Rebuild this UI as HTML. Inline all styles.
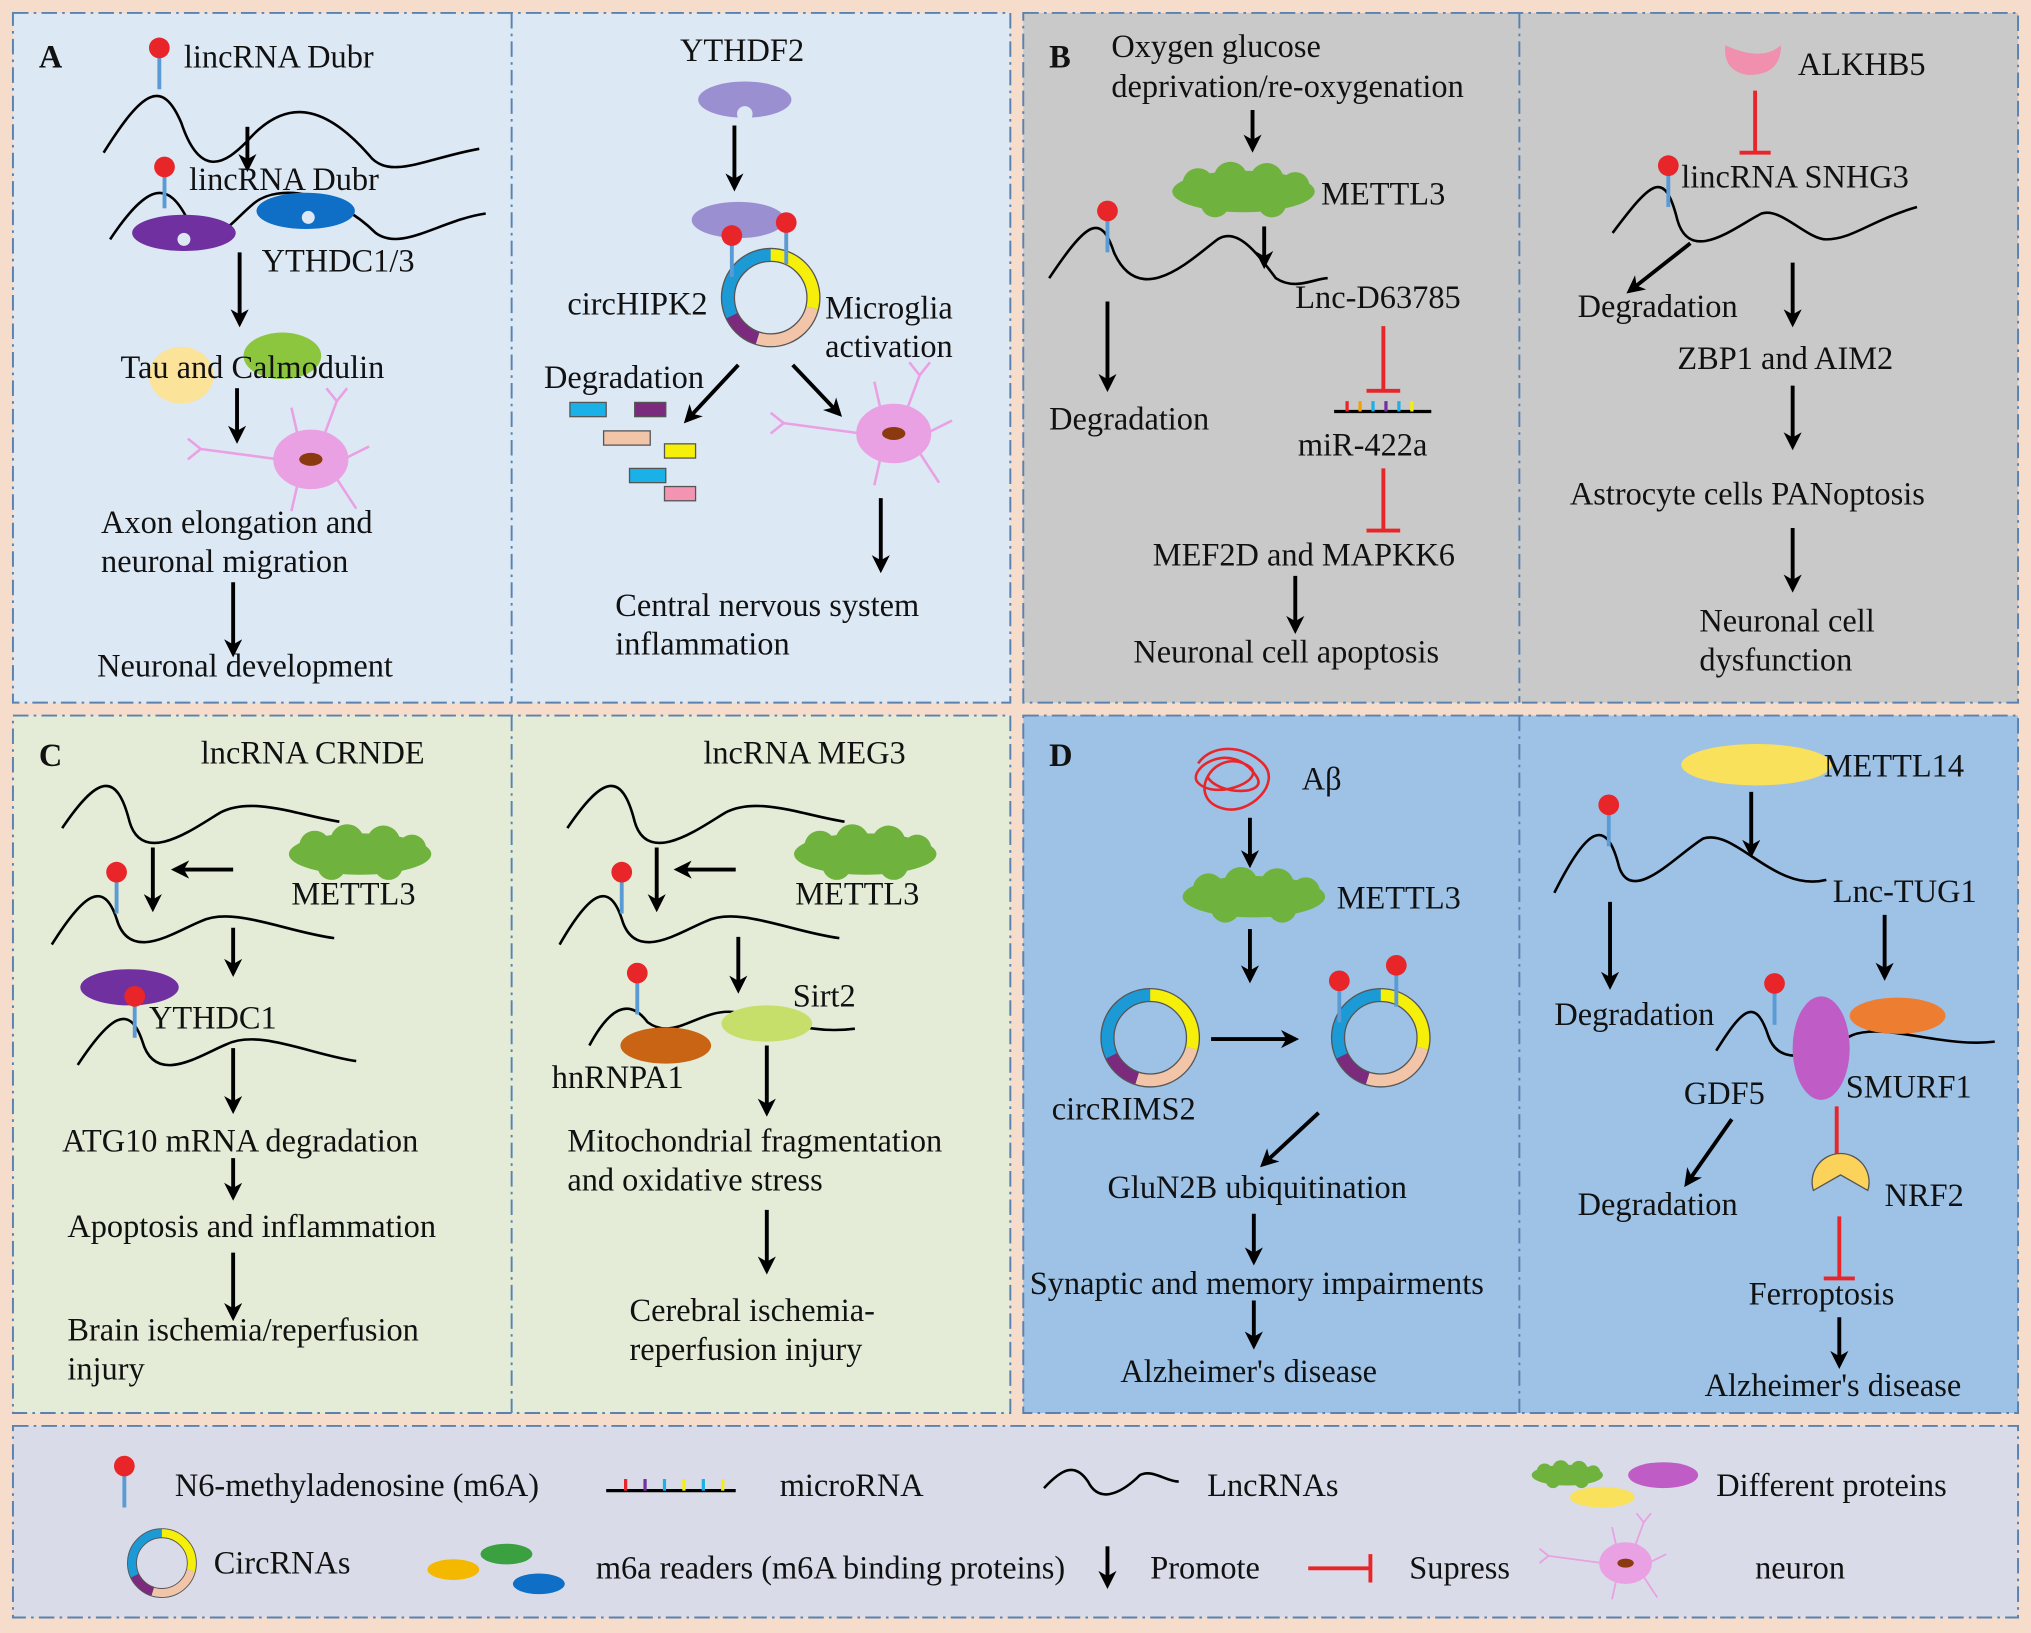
<!DOCTYPE html>
<html><head><meta charset="utf-8"><style>
html,body{margin:0;padding:0;background:#f6dccb;}
svg{display:block}
text{font-family:"Liberation Serif",serif;font-size:25px;fill:#111}
</style></head><body>
<svg width="2031" height="1633" viewBox="0 0 1568 1262" preserveAspectRatio="none" xmlns="http://www.w3.org/2000/svg">
<defs>
<marker id="ah" markerWidth="14" markerHeight="14" refX="11" refY="7" orient="auto" markerUnits="userSpaceOnUse"><path d="M0,0 L14,7 L0,14 L4,7 z" fill="#000"/></marker>
<g id="pin"><line x1="0" y1="0" x2="0" y2="32" stroke="#5b9bd5" stroke-width="3"/><circle cx="0" cy="0" r="8" fill="#e8262a"/></g>
<g id="circ"><circle r="33" fill="none" stroke="#1c9ad6" stroke-width="10"/>
<path d="M0,-33 A33,33 0 0 1 32,8" fill="none" stroke="#f5ef0a" stroke-width="10"/>
<path d="M32,8 A33,33 0 0 1 -10,31" fill="none" stroke="#f3c5a8" stroke-width="10"/>
<path d="M-10,31 A33,33 0 0 1 -30,14" fill="none" stroke="#7b2a7e" stroke-width="10"/>
<circle r="38" fill="none" stroke="#555" stroke-width="1"/><circle r="28" fill="none" stroke="#555" stroke-width="1"/></g>
<g id="cloud"><ellipse cx="0" cy="0" rx="55" ry="16" fill="#6fb23e"/><circle cx="-35" cy="-6" r="12" fill="#6fb23e"/><circle cx="-10" cy="-10" r="13" fill="#6fb23e"/><circle cx="18" cy="-9" r="13" fill="#6fb23e"/><circle cx="40" cy="-4" r="11" fill="#6fb23e"/><circle cx="-22" cy="9" r="11" fill="#6fb23e"/><circle cx="22" cy="9" r="11" fill="#6fb23e"/></g>
<g id="neuron" stroke="#e9a1e3" fill="#e9a1e3" stroke-width="2"><ellipse cx="0" cy="0" rx="28" ry="22"/><ellipse cx="0" cy="0" rx="9" ry="5" fill="#8b3a0f" stroke="none"/><path d="M-25,0 L-85,-8 M-85,-8 L-95,-16 M-85,-8 L-95,0 M10,-18 L20,-45 M20,-45 L28,-55 M20,-45 L12,-55 M-10,-18 L-15,-40 M20,15 L35,38 M-10,18 L-15,40 M25,0 L45,-10" fill="none"/></g>
</defs>
<rect width="1568" height="1262" fill="#f6dccb"/>
<g stroke="#5a82b0" stroke-width="1.5" stroke-dasharray="12,4,2,4">
<rect x="10" y="10" width="770" height="533" fill="#dde8f5"/><line x1="395" y1="10" x2="395" y2="543"/>
<rect x="790" y="10" width="768" height="533" fill="#c9c9c9"/><line x1="1173" y1="10" x2="1173" y2="543"/>
<rect x="10" y="553" width="770" height="539" fill="#e4ecd8"/><line x1="395" y1="553" x2="395" y2="1092"/>
<rect x="790" y="553" width="768" height="539" fill="#9dc2e6"/><line x1="1173" y1="553" x2="1173" y2="1092"/>
<rect x="10" y="1102" width="1548" height="148" fill="#d9dce8"/>
</g>
<g fill="none" stroke="#000" stroke-width="3" marker-end="url(#ah)">
<line x1="191" y1="98" x2="191" y2="130"/><line x1="185" y1="195" x2="185" y2="250"/><line x1="183" y1="300" x2="183" y2="340"/><line x1="180" y1="450" x2="180" y2="505"/>
<line x1="567" y1="97" x2="567" y2="145"/><line x1="570" y1="282" x2="530" y2="325"/><line x1="612" y1="282" x2="648" y2="320"/><line x1="680" y1="385" x2="680" y2="440"/>
<line x1="967" y1="85" x2="967" y2="115"/><line x1="976" y1="175" x2="976" y2="205"/><line x1="855" y1="233" x2="855" y2="300"/><line x1="1000" y1="445" x2="1000" y2="487"/>
<line x1="1305" y1="188" x2="1258" y2="225"/><line x1="1384" y1="203" x2="1384" y2="250"/><line x1="1384" y1="298" x2="1384" y2="345"/><line x1="1384" y1="408" x2="1384" y2="455"/>
<line x1="118" y1="655" x2="118" y2="702"/><line x1="180" y1="672" x2="135" y2="672"/><line x1="180" y1="717" x2="180" y2="752"/><line x1="180" y1="810" x2="180" y2="858"/><line x1="180" y1="895" x2="180" y2="925"/><line x1="180" y1="968" x2="180" y2="1018"/>
<line x1="507" y1="655" x2="507" y2="702"/><line x1="568" y1="672" x2="523" y2="672"/><line x1="570" y1="724" x2="570" y2="765"/><line x1="592" y1="808" x2="592" y2="860"/><line x1="592" y1="935" x2="592" y2="982"/>
<line x1="965" y1="632" x2="965" y2="668"/><line x1="965" y1="718" x2="965" y2="757"/><line x1="935" y1="803" x2="1000" y2="803"/><line x1="1018" y1="860" x2="975" y2="900"/><line x1="968" y1="938" x2="968" y2="975"/><line x1="968" y1="1005" x2="968" y2="1040"/>
<line x1="1352" y1="612" x2="1352" y2="660"/><line x1="1243" y1="697" x2="1243" y2="762"/><line x1="1455" y1="707" x2="1455" y2="755"/><line x1="1337" y1="865" x2="1302" y2="915"/><line x1="1420" y1="1018" x2="1420" y2="1055"/>
<line x1="855" y1="1195" x2="855" y2="1225"/>
</g>
<g stroke="#e8262a" stroke-width="3" fill="none">
<path d="M1355,70 V118 M1343,118 H1367"/>
<path d="M1068,252 V302 M1055,302 H1081"/>
<path d="M1068,362 V410 M1055,410 H1081"/>
<path d="M1418,855 V900 M1406,900 H1430"/>
<path d="M1420,940 V988 M1408,988 H1432"/>
<path d="M1010,1212 H1058 M1058,1201 V1223"/>
</g>
<g fill="none" stroke="#000" stroke-width="2">
<path d="M80,118 C110,70 125,60 140,95 C155,140 175,125 190,110 C220,75 250,80 285,120 C300,140 330,122 370,115"/>
<path d="M85,185 C115,140 130,140 145,170 C160,200 180,170 195,158 C215,140 260,150 290,180 C310,195 340,170 375,165"/>
<path d="M810,215 C840,170 850,165 860,195 C880,240 920,200 940,185 C955,175 970,195 985,215 C1000,225 1015,215 1025,215"/>
<path d="M1245,180 C1275,140 1285,130 1295,170 C1305,205 1340,175 1360,165 C1375,160 1395,185 1410,185 C1430,185 1445,170 1480,160"/>
<path d="M48,640 C75,600 90,595 100,635 C110,670 150,640 170,628 C195,615 230,630 262,635"/>
<path d="M40,730 C65,690 80,680 90,710 C100,745 135,720 155,712 C180,700 220,720 258,725"/>
<path d="M60,823 C85,785 100,775 110,805 C120,840 155,815 175,807 C200,795 240,815 275,820"/>
<path d="M438,640 C465,600 480,595 490,635 C500,670 540,640 560,628 C585,615 620,630 652,635"/>
<path d="M432,730 C455,690 470,680 480,710 C490,745 525,720 545,712 C570,700 610,720 648,725"/>
<path d="M455,808 C470,780 485,770 500,790 C520,805 540,780 565,782 C600,785 620,800 660,795"/>
<path d="M1200,690 C1225,640 1240,630 1250,670 C1260,700 1295,660 1315,648 C1340,640 1370,690 1410,680"/>
<path d="M1325,812 C1345,780 1355,770 1365,800 C1375,830 1410,810 1430,800 C1455,790 1500,810 1540,805"/>
<path d="M806,1150 C820,1135 830,1130 840,1145 C850,1165 870,1150 880,1140 C890,1135 900,1145 910,1145"/>
</g>
<ellipse cx="142" cy="180" rx="40" ry="14" fill="#7030a0"/>
<ellipse cx="236" cy="163" rx="38" ry="14" fill="#0f6fc6"/><circle cx="142" cy="185" r="5" fill="#dde8f5"/><circle cx="238" cy="168" r="5" fill="#dde8f5"/>
<ellipse cx="140" cy="290" rx="25" ry="22" fill="#fbe39a"/><ellipse cx="218" cy="275" rx="30" ry="18" fill="#8cc63f"/>
<ellipse cx="575" cy="77" rx="36" ry="14" fill="#9a8fd0"/><circle cx="575" cy="88" r="6" fill="#dde8f5"/>
<ellipse cx="570" cy="170" rx="36" ry="14" fill="#9a8fd0"/>
<use href="#circ" x="595" y="230"/><use href="#pin" x="565" y="182"/><use href="#pin" x="607" y="172"/>
<use href="#neuron" x="240" y="355"/><use href="#neuron" x="690" y="335"/>
<g stroke="#555" stroke-width="1"><rect x="440" y="311" width="28" height="11" fill="#1ab0e8"/><rect x="490" y="311" width="24" height="11" fill="#7b2a7e"/><rect x="466" y="333" width="36" height="11" fill="#f3c5a8"/><rect x="513" y="343" width="24" height="11" fill="#f5ef0a"/><rect x="486" y="362" width="28" height="11" fill="#1ab0e8"/><rect x="513" y="376" width="24" height="11" fill="#f394b3"/></g>
<use href="#pin" x="123" y="37"/><use href="#pin" x="127" y="129"/>
<use href="#cloud" x="960" y="148"/><use href="#pin" x="855" y="163"/>
<path d="M1332,35 Q1360,48 1375,35 Q1375,58 1350,58 Q1330,55 1332,35z" fill="#f08fae"/>
<use href="#pin" x="1288" y="128"/>
<g stroke-width="2.5"><line x1="1030" y1="318" x2="1105" y2="318" stroke="#000"/>
<line x1="1040" y1="318" x2="1040" y2="310" stroke="#e8262a"/><line x1="1050" y1="318" x2="1050" y2="310" stroke="#f5a000"/><line x1="1060" y1="318" x2="1060" y2="310" stroke="#1ab0e8"/><line x1="1070" y1="318" x2="1070" y2="310" stroke="#7030a0"/><line x1="1080" y1="318" x2="1080" y2="310" stroke="#1ab0e8"/><line x1="1090" y1="318" x2="1090" y2="310" stroke="#f5ef0a"/></g>
<use href="#cloud" x="278" y="660"/><use href="#cloud" x="668" y="660"/>
<use href="#pin" x="90" y="674"/><use href="#pin" x="480" y="674"/>
<ellipse cx="100" cy="763" rx="38" ry="14" fill="#7030a0"/><use href="#pin" x="104" y="770"/>
<use href="#pin" x="492" y="752"/>
<ellipse cx="514" cy="808" rx="35" ry="14" fill="#c86414"/><ellipse cx="592" cy="791" rx="35" ry="14" fill="#c6df6b"/>
<path d="M925,590 C935,575 960,575 975,590 C990,605 965,630 945,625 C915,618 935,580 960,590 C985,600 940,620 925,605 C915,595 950,570 970,600 C980,615 940,615 932,600" fill="none" stroke="#e8262a" stroke-width="2"/>
<use href="#cloud" x="968" y="693"/>
<use href="#circ" x="888" y="802"/><use href="#circ" x="1066" y="802"/><use href="#pin" x="1034" y="758"/><use href="#pin" x="1078" y="746"/>
<ellipse cx="1356" cy="591" rx="58" ry="16" fill="#f9e15b"/>
<use href="#pin" x="1242" y="622"/><use href="#pin" x="1370" y="760"/>
<ellipse cx="1406" cy="810" rx="22" ry="40" fill="#c05cc6"/><ellipse cx="1465" cy="785" rx="37" ry="14" fill="#ed7d31"/>
<path d="M1400,920 A22,22 0 1 1 1442,920 L1421,908 z" fill="#fbd35a" stroke="#555"/>
<use href="#pin" x="96" y="1133"/>
<line x1="468" y1="1152" x2="568" y2="1152" stroke="#000" stroke-width="2.5"/>
<g stroke-width="2.5"><line x1="483" y1="1152" x2="483" y2="1143" stroke="#e8262a"/><line x1="498" y1="1152" x2="498" y2="1143" stroke="#7030a0"/><line x1="513" y1="1152" x2="513" y2="1143" stroke="#1ab0e8"/><line x1="528" y1="1152" x2="528" y2="1143" stroke="#f5ef0a"/><line x1="543" y1="1152" x2="543" y2="1143" stroke="#1ab0e8"/><line x1="558" y1="1152" x2="558" y2="1143" stroke="#f5ef0a"/></g>
<g transform="translate(1210,1140) scale(0.5)"><use href="#cloud"/></g><ellipse cx="1237" cy="1157" rx="25" ry="8" fill="#f9e15b"/><ellipse cx="1284" cy="1140" rx="27" ry="10" fill="#c05cc6"/>
<g transform="translate(125,1208) scale(0.7)"><use href="#circ"/></g>
<ellipse cx="350" cy="1213" rx="20" ry="8" fill="#f5b800"/><ellipse cx="391" cy="1201" rx="20" ry="8" fill="#3aa040"/><ellipse cx="416" cy="1224" rx="20" ry="8" fill="#0f6fc6"/>
<g transform="translate(1255,1208) scale(0.7)"><use href="#neuron"/></g>
<g>
<text x="30" y="52" font-weight="bold" font-size="26">A</text>
<text x="142" y="52">lincRNA Dubr</text><text x="146" y="147">lincRNA Dubr</text><text x="202" y="210">YTHDC1/3</text>
<text x="93" y="292">Tau and Calmodulin</text><text x="78" y="412">Axon elongation and</text><text x="78" y="442">neuronal migration</text><text x="75" y="523">Neuronal development</text>
<text x="525" y="47">YTHDF2</text><text x="438" y="243">circHIPK2</text><text x="637" y="246">Microglia</text><text x="637" y="276">activation</text><text x="420" y="300">Degradation</text>
<text x="475" y="476">Central nervous system</text><text x="475" y="506">inflammation</text>
<text x="810" y="52" font-weight="bold" font-size="26">B</text>
<text x="858" y="44">Oxygen glucose</text><text x="858" y="75">deprivation/re-oxygenation</text><text x="1020" y="158">METTL3</text><text x="1000" y="238">Lnc-D63785</text>
<text x="810" y="332">Degradation</text><text x="1002" y="352">miR-422a</text><text x="890" y="437">MEF2D and MAPKK6</text><text x="875" y="512">Neuronal cell apoptosis</text>
<text x="1388" y="58">ALKHB5</text><text x="1298" y="145">lincRNA SNHG3</text><text x="1218" y="245">Degradation</text><text x="1295" y="285">ZBP1 and AIM2</text>
<text x="1212" y="390">Astrocyte cells PANoptosis</text><text x="1312" y="488">Neuronal cell</text><text x="1312" y="518">dysfunction</text>
<text x="30" y="592" font-weight="bold" font-size="26">C</text>
<text x="155" y="590">lncRNA CRNDE</text><text x="225" y="699">METTL3</text><text x="115" y="795">YTHDC1</text><text x="48" y="890">ATG10 mRNA degradation</text>
<text x="52" y="956">Apoptosis and inflammation</text><text x="52" y="1036">Brain ischemia/reperfusion</text><text x="52" y="1066">injury</text>
<text x="543" y="590">lncRNA MEG3</text><text x="614" y="699">METTL3</text><text x="612" y="778">Sirt2</text><text x="426" y="841">hnRNPA1</text>
<text x="438" y="890">Mitochondrial fragmentation</text><text x="438" y="920">and oxidative stress</text><text x="486" y="1021">Cerebral ischemia-</text><text x="486" y="1051">reperfusion injury</text>
<text x="810" y="592" font-weight="bold" font-size="26">D</text>
<text x="1005" y="610">Aβ</text><text x="1032" y="702">METTL3</text><text x="812" y="865">circRIMS2</text><text x="855" y="926">GluN2B ubiquitination</text>
<text x="795" y="1000">Synaptic and memory impairments</text><text x="865" y="1068">Alzheimer's disease</text>
<text x="1408" y="600">METTL14</text><text x="1415" y="697">Lnc-TUG1</text><text x="1200" y="792">Degradation</text><text x="1300" y="853">GDF5</text><text x="1425" y="848">SMURF1</text>
<text x="1218" y="939">Degradation</text><text x="1455" y="932">NRF2</text><text x="1350" y="1008">Ferroptosis</text><text x="1316" y="1079">Alzheimer's disease</text>
<text x="135" y="1156">N6-methyladenosine (m6A)</text><text x="602" y="1156">microRNA</text><text x="932" y="1156">LncRNAs</text><text x="1325" y="1156">Different proteins</text>
<text x="165" y="1216">CircRNAs</text><text x="460" y="1220">m6a readers (m6A binding proteins)</text><text x="888" y="1220">Promote</text><text x="1088" y="1220">Supress</text><text x="1355" y="1220">neuron</text>
</g>
</svg>
</body></html>
